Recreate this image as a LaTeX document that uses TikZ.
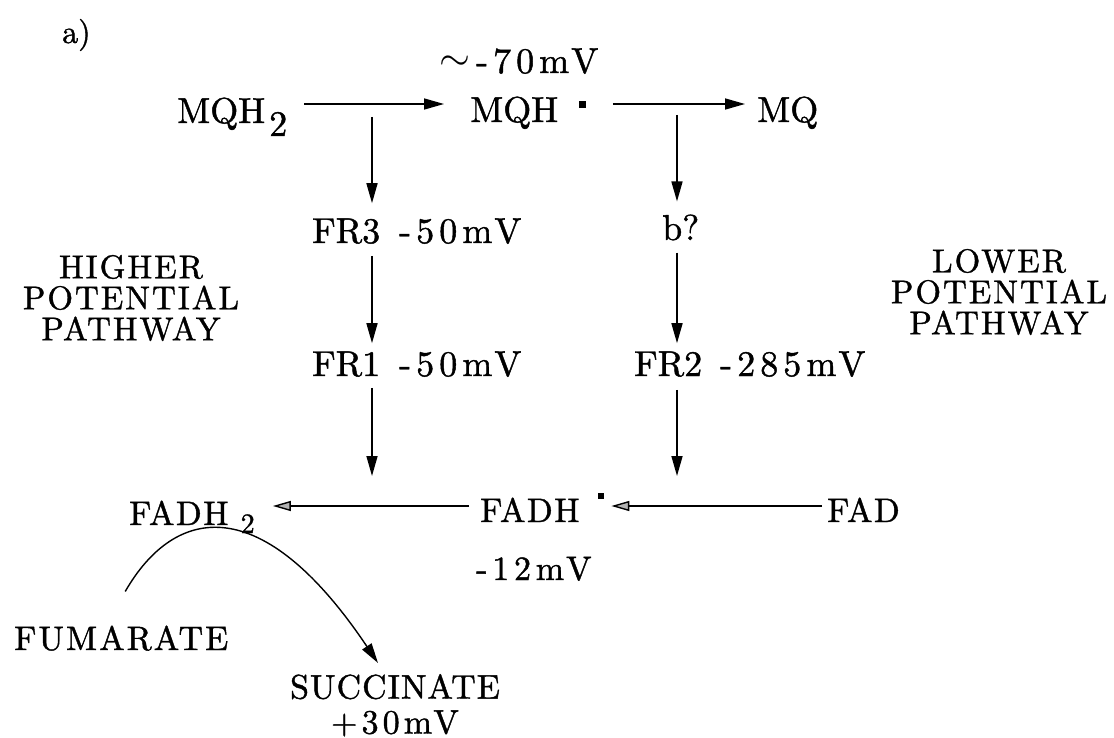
\documentclass[tikz,border=0pt]{standalone}
\usepackage{fontspec}
\setmainfont{lmroman10-regular}[Extension=.otf, FakeBold=1.2]
\usetikzlibrary{arrows.meta, positioning}

\tikzset{
  lbl/.style={inner sep=0pt, anchor=base west, font=\fontsize{36}{40}\selectfont},
  slbl/.style={inner sep=0pt, anchor=base west, font=\addfontfeatures{LetterSpace=4}\fontsize{34}{38}\selectfont},
  mvlbl/.style={inner sep=0pt, anchor=base west, font=\addfontfeatures{LetterSpace=14}\fontsize{36}{40}\selectfont},
  smvlbl/.style={inner sep=0pt, anchor=base west, font=\addfontfeatures{LetterSpace=14}\fontsize{34}{38}\selectfont},
  capslbl/.style={inner sep=0pt, align=center, font=\addfontfeatures{LetterSpace=6}\fontsize{33}{31}\selectfont},
  arr/.style={-{Triangle[length=20pt, width=11pt]}, line width=1.6pt},
  oarr/.style={-{Triangle[length=18pt, width=10pt, fill=gray!60]}, line width=1.4pt}
}
\newcommand{\raddot}[1]{\raisebox{#1}{\rule{6.5pt}{6.5pt}}}

\begin{document}
\begin{tikzpicture}[x=1pt, y=-1pt]
   \fill[white] (0,0) rectangle (1114,738);
   \useasboundingbox (0,0) rectangle (1114,738);
   % helper lines for rows and columns
   \coordinate (row1) at (0,104);
   \coordinate (row3) at (0,506);
   \coordinate (col1) at (372,0);
   \coordinate (col2) at (677,0);

   \node[lbl, font=\fontsize{32}{36}\selectfont] (panel) at (62,43) {a)};

   % menaquinone row
   \node[mvlbl] (mqhmv) at (439,73) {\raisebox{2pt}{\scalebox{1.6}{$\sim$}}\hspace{6pt}-70mV};
   \node[lbl] (mqh2) at (177,123) {MQH\hspace{4pt}\raisebox{-13pt}{2}};
   \node[lbl] (mqh) at (470,122) {MQH\hspace{21pt}\raddot{14pt}};
   \node[lbl] (mq) at (757,122) {MQ};

   % iron-sulfur clusters
   \node[lbl] (fr3) at (312,243) {FR3};
   \node[mvlbl] (fr3mv) at (399,243) {-50mV};
   \node[lbl] (bq) at (662,240) {b?};
   \node[lbl] (fr1) at (312,376) {FR1};
   \node[mvlbl] (fr1mv) at (399,376) {-50mV};
   \node[lbl] (fr2) at (634,376) {FR2};
   \node[mvlbl] (fr2mv) at (720,376) {-285mV};

   % pathway labels
   \node[capslbl] (higher) at (131,298) {HIGHER\\POTENTIAL\\PATHWAY};
   \node[capslbl] (lower) at (999,292) {LOWER\\POTENTIAL\\PATHWAY};

   % flavin row
   \node[slbl] (fadh2) at (129,525) {FADH\hspace{12pt}\raisebox{-8pt}{\fontsize{28}{28}\selectfont 2}};
   \node[slbl] (fadh) at (480,522) {FADH\hspace{18pt}\raddot{23pt}};
   \node[slbl] (fad) at (827,522) {FAD};
   \node[smvlbl] (fadhmv) at (476,580) {-12mV};

   % substrates
   \node[slbl, font=\addfontfeatures{LetterSpace=6}\fontsize{34}{38}\selectfont] (fum) at (14,650) {FUMARATE};
   \node[capslbl, anchor=north, font=\addfontfeatures{LetterSpace=3}\fontsize{34}{35}\selectfont] (succ) at (395,674)
      {SUCCINATE\\{\addfontfeatures{LetterSpace=12}+30mV}};

   % top row arrows
   \draw[arr, shorten <=17pt, shorten >=26pt] (mqh2.east |- row1) -- (mqh.west |- row1);
   \draw[arr, shorten <=27pt, shorten >=12pt] (mqh.east |- row1) -- (mq.west |- row1);

   % higher potential branch
   \draw[arr, shorten <=13pt, shorten >=15pt] (col1 |- row1) -- (col1 |- fr3.north);
   \draw[arr, shorten <=12pt, shorten >=8pt] (col1 |- fr3.south) -- (col1 |- fr1.north);
   \draw[arr, shorten <=11pt, shorten >=30pt] (col1 |- fr1.south) -- (col1 |- row3);

   % lower potential branch
   \draw[arr, shorten <=11pt, shorten >=13pt] (col2 |- row1) -- (col2 |- bq.north);
   \draw[arr, shorten <=12pt, shorten >=8pt] (col2 |- bq.south) -- (col2 |- fr2.north);
   \draw[arr, shorten <=13pt, shorten >=30pt] (col2 |- fr2.south) -- (col2 |- row3);

   % flavin arrows
   \draw[oarr, shorten <=11pt, shorten >=18pt] (fadh.west |- row3) -- (fadh2.east |- row3);
   \draw[oarr, shorten <=5pt, shorten >=7pt] (fad.west |- row3) -- (fadh.east |- row3);

   % fumarate to succinate
   \draw[arr, line width=1.4pt] ([xshift=4pt, yshift=34pt]fum.north)
      .. controls (175,505) and (262,490) .. ([xshift=-17pt, yshift=11pt]succ.north);
\end{tikzpicture}
\end{document}
